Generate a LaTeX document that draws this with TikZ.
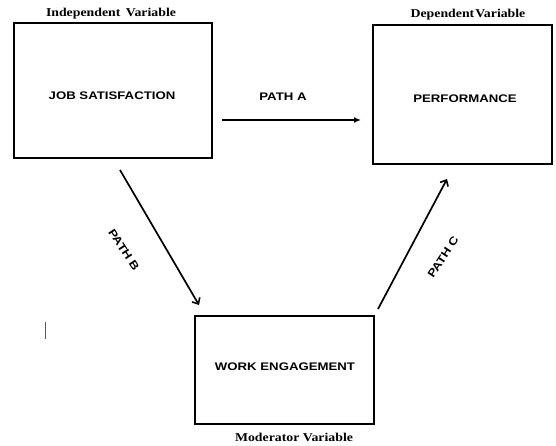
\documentclass[tikz,border=0pt]{standalone}
\usepackage{fontspec}
\setmainfont{Liberation Serif}
\newfontfamily\boxfont[FakeStretch=1.2]{Liberation Sans}
\newfontfamily\labfont[FakeStretch=1.15]{Liberation Serif}
\usetikzlibrary{arrows.meta}
\begin{document}
\begin{tikzpicture}[x=1pt,y=-1pt,
  varbox/.style={draw,line width=1.8pt,inner sep=0pt},
  varlabel/.style={inner sep=0pt,font=\labfont\bfseries\fontsize{12}{14}\selectfont},
  boxtext/.style={inner sep=0pt,font=\boxfont\bfseries\fontsize{11}{13}\selectfont},
  conn/.style={line width=1.7pt,-{Straight Barb[length=5pt,width=9pt,line width=1.6pt]}},
  connA/.style={line width=1.7pt,-{Latex[length=7pt,width=6pt]}}]
\useasboundingbox (0,0) rectangle (556,445);
\node[varbox,minimum width=198pt,minimum height=135pt] (js) at (113,90.5) {};
\node[boxtext] (jst) at (112,96) {JOB SATISFACTION};
\node[varbox,minimum width=179pt,minimum height=139pt] (pf) at (462.5,94.5) {};
\node[boxtext] (pft) at (465,99) {PERFORMANCE};
\node[varbox,minimum width=179pt,minimum height=108pt] (we) at (284.5,370) {};
\node[boxtext] (wet) at (285,367) {WORK ENGAGEMENT};
\node[varlabel] (iv) at (111,14) {Independent\, Variable};
\node[varlabel] (dv) at (468,15) {Dependent\kern1pt Variable};
\node[varlabel] (mv) at (294,437) {Moderator Variable};
\coordinate (a1) at (222,120);
\coordinate (a2) at (361,120);
\coordinate (b1) at (120,170);
\coordinate (b2) at (199,305);
\coordinate (c1) at (378,309);
\coordinate (c2) at (447,179);
\draw[connA] (a1) -- (a2);
\draw[conn] (b1) -- (b2);
\draw[conn] (c1) -- (c2);
\node[boxtext] (pa) at (283,97) {PATH A};
\node[boxtext,rotate=-57] (pb) at (124,250) {PATH B};
\node[boxtext,rotate=57] (pc) at (443,257) {PATH C};
\draw[gray!70!black,line width=0.8pt] (45,322) -- (45,339);
\end{tikzpicture}
\end{document}
